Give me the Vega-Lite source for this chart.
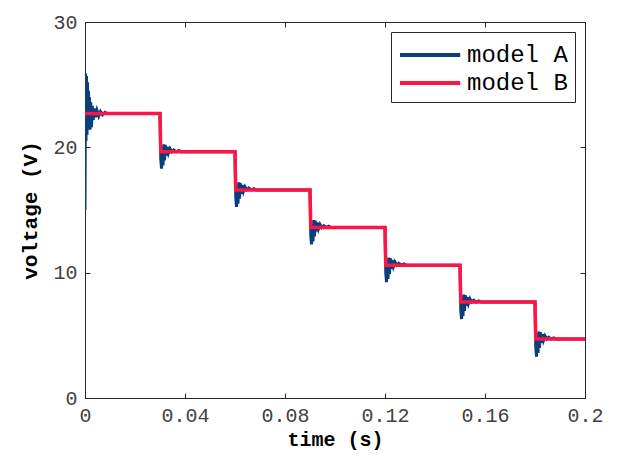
{
  "$schema": "https://vega.github.io/schema/vega-lite/v6.json",
  "width": 500,
  "height": 376,
  "autosize": "none",
  "padding": {"left": 85, "top": 22, "right": 37, "bottom": 57},
  "background": "white",
  "config": {
    "view": {"stroke": "#262626", "strokeWidth": 1},
    "font": "Liberation Mono",
    "axis": {
      "grid": false,
      "domainColor": "#262626",
      "tickColor": "#262626",
      "tickSize": -5,
      "labelFont": "Liberation Mono",
      "labelFontSize": 20,
      "labelColor": "#404040",
      "titleFont": "Liberation Mono",
      "titleFontSize": 20,
      "titleFontWeight": "bold",
      "titleColor": "#000000"
    }
  },
  "datasets": {
    "curves": [
      {"t": 0.0, "v": 15.0, "series": "model A"},
      {"t": 0.0002, "v": 25.9, "series": "model A"},
      {"t": 0.0004, "v": 20.5, "series": "model A"},
      {"t": 0.0006, "v": 25.7, "series": "model A"},
      {"t": 0.0008, "v": 21.0, "series": "model A"},
      {"t": 0.0010, "v": 25.2, "series": "model A"},
      {"t": 0.0012, "v": 21.5, "series": "model A"},
      {"t": 0.0014, "v": 24.5, "series": "model A"},
      {"t": 0.0016, "v": 21.8, "series": "model A"},
      {"t": 0.0018, "v": 24.0, "series": "model A"},
      {"t": 0.0020, "v": 21.4, "series": "model A"},
      {"t": 0.0023, "v": 23.6, "series": "model A"},
      {"t": 0.0026, "v": 21.6, "series": "model A"},
      {"t": 0.0029, "v": 23.3, "series": "model A"},
      {"t": 0.0033, "v": 22.2, "series": "model A"},
      {"t": 0.0037, "v": 23.1, "series": "model A"},
      {"t": 0.0042, "v": 22.4, "series": "model A"},
      {"t": 0.0048, "v": 22.95, "series": "model A"},
      {"t": 0.0055, "v": 22.5, "series": "model A"},
      {"t": 0.0062, "v": 22.85, "series": "model A"},
      {"t": 0.0070, "v": 22.6, "series": "model A"},
      {"t": 0.0080, "v": 22.8, "series": "model A"},
      {"t": 0.0090, "v": 22.7, "series": "model A"},
      {"t": 0.0300, "v": 22.7, "series": "model A"},
      {"t": 0.0303, "v": 19.05, "series": "model A"},
      {"t": 0.0306, "v": 18.3, "series": "model A"},
      {"t": 0.0309, "v": 19.75, "series": "model A"},
      {"t": 0.0312, "v": 18.55, "series": "model A"},
      {"t": 0.0315, "v": 20.25, "series": "model A"},
      {"t": 0.0318, "v": 18.95, "series": "model A"},
      {"t": 0.0321, "v": 20.2, "series": "model A"},
      {"t": 0.0325, "v": 19.35, "series": "model A"},
      {"t": 0.0329, "v": 20.05, "series": "model A"},
      {"t": 0.0334, "v": 19.55, "series": "model A"},
      {"t": 0.0340, "v": 19.9, "series": "model A"},
      {"t": 0.0347, "v": 19.65, "series": "model A"},
      {"t": 0.0355, "v": 19.8, "series": "model A"},
      {"t": 0.0365, "v": 19.65, "series": "model A"},
      {"t": 0.0375, "v": 19.75, "series": "model A"},
      {"t": 0.0385, "v": 19.65, "series": "model A"},
      {"t": 0.0600, "v": 19.65, "series": "model A"},
      {"t": 0.0603, "v": 16.0, "series": "model A"},
      {"t": 0.0606, "v": 15.25, "series": "model A"},
      {"t": 0.0609, "v": 16.7, "series": "model A"},
      {"t": 0.0612, "v": 15.5, "series": "model A"},
      {"t": 0.0615, "v": 17.2, "series": "model A"},
      {"t": 0.0618, "v": 15.9, "series": "model A"},
      {"t": 0.0621, "v": 17.15, "series": "model A"},
      {"t": 0.0625, "v": 16.3, "series": "model A"},
      {"t": 0.0629, "v": 17.0, "series": "model A"},
      {"t": 0.0634, "v": 16.5, "series": "model A"},
      {"t": 0.0640, "v": 16.85, "series": "model A"},
      {"t": 0.0647, "v": 16.6, "series": "model A"},
      {"t": 0.0655, "v": 16.75, "series": "model A"},
      {"t": 0.0665, "v": 16.6, "series": "model A"},
      {"t": 0.0675, "v": 16.7, "series": "model A"},
      {"t": 0.0685, "v": 16.6, "series": "model A"},
      {"t": 0.0900, "v": 16.6, "series": "model A"},
      {"t": 0.0903, "v": 13.0, "series": "model A"},
      {"t": 0.0906, "v": 12.25, "series": "model A"},
      {"t": 0.0909, "v": 13.7, "series": "model A"},
      {"t": 0.0912, "v": 12.5, "series": "model A"},
      {"t": 0.0915, "v": 14.2, "series": "model A"},
      {"t": 0.0918, "v": 12.9, "series": "model A"},
      {"t": 0.0921, "v": 14.15, "series": "model A"},
      {"t": 0.0925, "v": 13.3, "series": "model A"},
      {"t": 0.0929, "v": 14.0, "series": "model A"},
      {"t": 0.0934, "v": 13.5, "series": "model A"},
      {"t": 0.0940, "v": 13.85, "series": "model A"},
      {"t": 0.0947, "v": 13.6, "series": "model A"},
      {"t": 0.0955, "v": 13.75, "series": "model A"},
      {"t": 0.0965, "v": 13.6, "series": "model A"},
      {"t": 0.0975, "v": 13.7, "series": "model A"},
      {"t": 0.0985, "v": 13.6, "series": "model A"},
      {"t": 0.1200, "v": 13.6, "series": "model A"},
      {"t": 0.1203, "v": 10.0, "series": "model A"},
      {"t": 0.1206, "v": 9.25, "series": "model A"},
      {"t": 0.1209, "v": 10.7, "series": "model A"},
      {"t": 0.1212, "v": 9.5, "series": "model A"},
      {"t": 0.1215, "v": 11.2, "series": "model A"},
      {"t": 0.1218, "v": 9.9, "series": "model A"},
      {"t": 0.1221, "v": 11.15, "series": "model A"},
      {"t": 0.1225, "v": 10.3, "series": "model A"},
      {"t": 0.1229, "v": 11.0, "series": "model A"},
      {"t": 0.1234, "v": 10.5, "series": "model A"},
      {"t": 0.1240, "v": 10.85, "series": "model A"},
      {"t": 0.1247, "v": 10.6, "series": "model A"},
      {"t": 0.1255, "v": 10.75, "series": "model A"},
      {"t": 0.1265, "v": 10.6, "series": "model A"},
      {"t": 0.1275, "v": 10.7, "series": "model A"},
      {"t": 0.1285, "v": 10.6, "series": "model A"},
      {"t": 0.1500, "v": 10.6, "series": "model A"},
      {"t": 0.1503, "v": 7.05, "series": "model A"},
      {"t": 0.1506, "v": 6.3, "series": "model A"},
      {"t": 0.1509, "v": 7.75, "series": "model A"},
      {"t": 0.1512, "v": 6.55, "series": "model A"},
      {"t": 0.1515, "v": 8.25, "series": "model A"},
      {"t": 0.1518, "v": 6.95, "series": "model A"},
      {"t": 0.1521, "v": 8.2, "series": "model A"},
      {"t": 0.1525, "v": 7.35, "series": "model A"},
      {"t": 0.1529, "v": 8.05, "series": "model A"},
      {"t": 0.1534, "v": 7.55, "series": "model A"},
      {"t": 0.1540, "v": 7.9, "series": "model A"},
      {"t": 0.1547, "v": 7.65, "series": "model A"},
      {"t": 0.1555, "v": 7.8, "series": "model A"},
      {"t": 0.1565, "v": 7.65, "series": "model A"},
      {"t": 0.1575, "v": 7.75, "series": "model A"},
      {"t": 0.1585, "v": 7.65, "series": "model A"},
      {"t": 0.1800, "v": 7.65, "series": "model A"},
      {"t": 0.1803, "v": 4.1, "series": "model A"},
      {"t": 0.1806, "v": 3.3, "series": "model A"},
      {"t": 0.1809, "v": 4.8, "series": "model A"},
      {"t": 0.1812, "v": 3.6, "series": "model A"},
      {"t": 0.1815, "v": 5.3, "series": "model A"},
      {"t": 0.1818, "v": 4.0, "series": "model A"},
      {"t": 0.1821, "v": 5.25, "series": "model A"},
      {"t": 0.1825, "v": 4.4, "series": "model A"},
      {"t": 0.1829, "v": 5.1, "series": "model A"},
      {"t": 0.1834, "v": 4.6, "series": "model A"},
      {"t": 0.1840, "v": 4.95, "series": "model A"},
      {"t": 0.1847, "v": 4.7, "series": "model A"},
      {"t": 0.1855, "v": 4.85, "series": "model A"},
      {"t": 0.1865, "v": 4.7, "series": "model A"},
      {"t": 0.1875, "v": 4.8, "series": "model A"},
      {"t": 0.1885, "v": 4.7, "series": "model A"},
      {"t": 0.2000, "v": 4.7, "series": "model A"},
      {"t": 0.0, "v": 22.7, "series": "model B"},
      {"t": 0.0300, "v": 22.7, "series": "model B"},
      {"t": 0.0303, "v": 19.65, "series": "model B"},
      {"t": 0.0600, "v": 19.65, "series": "model B"},
      {"t": 0.0603, "v": 16.6, "series": "model B"},
      {"t": 0.0900, "v": 16.6, "series": "model B"},
      {"t": 0.0903, "v": 13.6, "series": "model B"},
      {"t": 0.1200, "v": 13.6, "series": "model B"},
      {"t": 0.1203, "v": 10.6, "series": "model B"},
      {"t": 0.1500, "v": 10.6, "series": "model B"},
      {"t": 0.1503, "v": 7.65, "series": "model B"},
      {"t": 0.1800, "v": 7.65, "series": "model B"},
      {"t": 0.1803, "v": 4.7, "series": "model B"},
      {"t": 0.2000, "v": 4.7, "series": "model B"}
    ]
  },
  "data": {"name": "curves"},
  "layer": [
    {
      "transform": [{"filter": "datum.series === 'model A'"}],
      "mark": {"type": "line", "strokeWidth": 3, "strokeJoin": "miter", "clip": true},
      "encoding": {
        "x": {"field": "t", "type": "quantitative", "scale": {"domain": [0, 0.2], "nice": false},
          "axis": {"orient": "bottom", "values": [0, 0.04, 0.08, 0.12, 0.16, 0.2], "format": "~g", "title": "time (s)", "labelPadding": 12, "titlePadding": 4, "labelFlush": false}},
        "y": {"field": "v", "type": "quantitative", "scale": {"domain": [0, 30], "nice": false},
          "axis": {"orient": "left", "values": [0, 10, 20, 30], "title": "voltage (V)", "titleFontSize": 21, "labelPadding": 13, "titlePadding": 12, "labelFlush": false}},
        "color": {"field": "series", "type": "nominal",
          "scale": {"domain": ["model A", "model B"], "range": ["#0a3f7c", "#ff1446"]},
          "legend": {"title": null, "orient": "top-right", "offset": 10, "symbolType": "M-1,0H3.3", "symbolSize": 784, "symbolStrokeWidth": 4,
            "labelFont": "Liberation Mono", "labelFontSize": 24, "labelColor": "#000000", "labelOffset": 37,
            "fillColor": "white", "strokeColor": "#262626", "padding": 7, "rowPadding": 0}},
        "order": {"field": "t", "type": "quantitative"}
      }
    },
    {
      "transform": [{"filter": "datum.series === 'model B'"}],
      "mark": {"type": "line", "strokeWidth": 3.5, "clip": true},
      "encoding": {
        "x": {"field": "t", "type": "quantitative", "scale": {"domain": [0, 0.2], "nice": false},
          "axis": {"orient": "top", "values": [0, 0.04, 0.08, 0.12, 0.16, 0.2], "labels": false, "title": null, "domain": false}},
        "y": {"field": "v", "type": "quantitative", "scale": {"domain": [0, 30], "nice": false},
          "axis": {"orient": "right", "values": [0, 10, 20, 30], "labels": false, "title": null, "domain": false}},
        "color": {"field": "series", "type": "nominal"},
        "order": {"field": "t", "type": "quantitative"}
      }
    }
  ],
  "resolve": {"axis": {"x": "independent", "y": "independent"}}
}
